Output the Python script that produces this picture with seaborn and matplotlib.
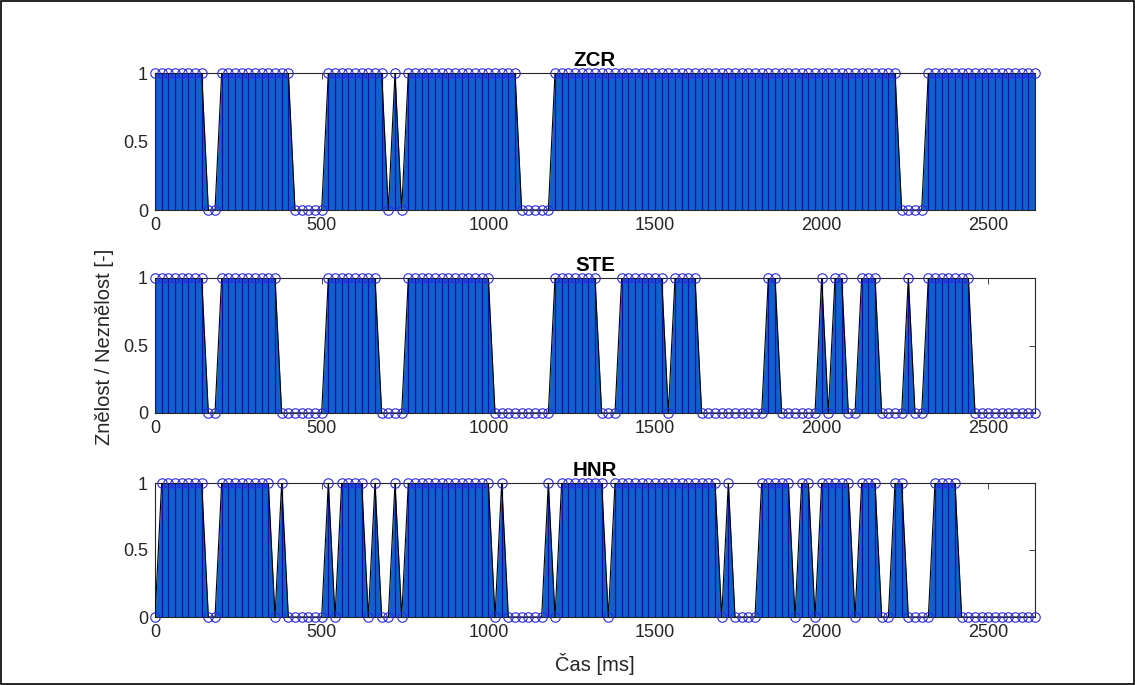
import numpy as np
import pandas as pd
import seaborn as sns
import matplotlib
matplotlib.use("Agg")
import matplotlib.pyplot as plt
from matplotlib.patches import Rectangle

# one decision per 20 ms frame (1 = voiced, 0 = unvoiced)
FRAME_MS = 20

ZCR = [1, 1, 1, 1, 1, 1, 1, 1, 0, 0, 1, 1, 1, 1, 1, 1, 1, 1, 1, 1,
       1, 0, 0, 0, 0, 0, 1, 1, 1, 1, 1, 1, 1, 1, 1, 0, 1, 0, 1, 1,
       1, 1, 1, 1, 1, 1, 1, 1, 1, 1, 1, 1, 1, 1, 1, 0, 0, 0, 0, 0,
       1, 1, 1, 1, 1, 1, 1, 1, 1, 1, 1, 1, 1, 1, 1, 1, 1, 1, 1, 1,
       1, 1, 1, 1, 1, 1, 1, 1, 1, 1, 1, 1, 1, 1, 1, 1, 1, 1, 1, 1,
       1, 1, 1, 1, 1, 1, 1, 1, 1, 1, 1, 1, 0, 0, 0, 0, 1, 1, 1, 1,
       1, 1, 1, 1, 1, 1, 1, 1, 1, 1, 1, 1, 1]

STE = [1, 1, 1, 1, 1, 1, 1, 1, 0, 0, 1, 1, 1, 1, 1, 1, 1, 1, 1, 0,
       0, 0, 0, 0, 0, 0, 1, 1, 1, 1, 1, 1, 1, 1, 0, 0, 0, 0, 1, 1,
       1, 1, 1, 1, 1, 1, 1, 1, 1, 1, 1, 0, 0, 0, 0, 0, 0, 0, 0, 0,
       1, 1, 1, 1, 1, 1, 1, 0, 0, 0, 1, 1, 1, 1, 1, 1, 1, 0, 1, 1,
       1, 1, 0, 0, 0, 0, 0, 0, 0, 0, 0, 0, 1, 1, 0, 0, 0, 0, 0, 0,
       1, 0, 1, 1, 0, 0, 1, 1, 1, 0, 0, 0, 0, 1, 0, 0, 1, 1, 1, 1,
       1, 1, 1, 0, 0, 0, 0, 0, 0, 0, 0, 0, 0]

HNR = [0, 1, 1, 1, 1, 1, 1, 1, 0, 0, 1, 1, 1, 1, 1, 1, 1, 1, 0, 1,
       0, 0, 0, 0, 0, 0, 1, 0, 1, 1, 1, 1, 0, 1, 0, 0, 1, 0, 1, 1,
       1, 1, 1, 1, 1, 1, 1, 1, 1, 1, 1, 0, 1, 0, 0, 0, 0, 0, 0, 1,
       0, 1, 1, 1, 1, 1, 1, 1, 0, 1, 1, 1, 1, 1, 1, 1, 1, 1, 1, 1,
       1, 1, 1, 1, 1, 0, 1, 0, 0, 0, 0, 1, 1, 1, 1, 1, 0, 1, 1, 0,
       1, 1, 1, 1, 1, 0, 1, 1, 1, 0, 0, 1, 1, 0, 0, 0, 0, 1, 1, 1,
       1, 0, 0, 0, 0, 0, 0, 0, 0, 0, 0, 0, 0]

PANELS = ["ZCR", "STE", "HNR"]
X_TICKS = [0, 500, 1000, 1500, 2000, 2500]
Y_TICKS = [0, 0.5, 1]
Y_TICK_LABELS = ["0", "0.5", "1"]

AREA_BLUE = "#0F62CC"
STEM_BLUE = "#1010A8"
MARK_BLUE = "#2A2AE0"
AX_GRAY = "#262626"

sns.set_theme(style="white")
plt.rcParams["font.family"] = ["Liberation Sans", "DejaVu Sans"]

frames = pd.DataFrame({"ZCR": ZCR, "STE": STE, "HNR": HNR})
frames["t"] = frames.index * FRAME_MS
df = frames.melt(id_vars="t", var_name="feature", value_name="voiced")

fig = plt.figure(figsize=(11.35, 6.85), dpi=100)
fig.patch.set_facecolor("white")

W, H = 1135, 685
left, right = 155, 1035
rows = [(73, 210), (278, 413), (483, 617)]  # top, bottom in px

for name, (top, bot) in zip(PANELS, rows):
    ax = fig.add_axes([left / W, 1 - bot / H, (right - left) / W, (bot - top) / H])
    d = df[df["feature"] == name]

    ax.fill_between(d["t"], 0, d["voiced"], color=AREA_BLUE, lw=0, zorder=1)
    ax.vlines(d["t"], 0, d["voiced"], color=STEM_BLUE, lw=0.9, zorder=2)
    sns.lineplot(data=d, x="t", y="voiced", color="black", lw=0.8, ax=ax, zorder=3)
    ax.plot(d["t"], d["voiced"], "o", mfc="none", mec=MARK_BLUE, ms=6.8, mew=0.8,
            clip_on=False, zorder=4)

    ax.set_xlim(0, frames["t"].max())
    ax.set_ylim(0, 1)
    ax.set_xticks(X_TICKS)
    ax.set_yticks(Y_TICKS)
    ax.set_yticklabels(Y_TICK_LABELS)
    ax.set_xlabel("")
    ax.set_ylabel("")
    ax.tick_params(direction="in", top=True, right=True, length=4, width=0.6,
                   labelsize=13, color=AX_GRAY, labelcolor=AX_GRAY, pad=5)
    for sp in ax.spines.values():
        sp.set_color(AX_GRAY)
        sp.set_linewidth(0.8)
    ax.set_title(name, fontweight="bold", fontsize=14.8, pad=5, color="black")

fig.text(595 / W, 1 - 664 / H, "Čas [ms]", ha="center", va="center",
         fontsize=14.5, color=AX_GRAY)
fig.text(105 / W, 1 - 347 / H, "Znělost / Neznělost [-]", ha="center",
         va="center", rotation=90, fontsize=14.5, color=AX_GRAY)

fig.patches.append(Rectangle((0.001, 0.001), 0.998, 0.997, transform=fig.transFigure,
                             fill=False, edgecolor="black", lw=1.2))

fig.savefig("out.png", dpi=100)
